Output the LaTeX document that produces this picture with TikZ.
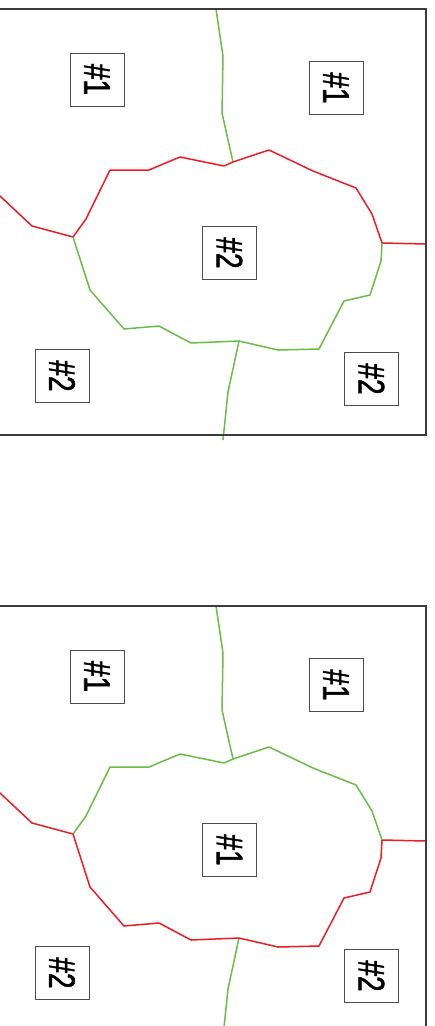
\documentclass[tikz,border=0pt]{standalone}
\usepackage{graphicx}
\usepackage{fontspec}
\setmainfont{Liberation Sans}
\definecolor{lred}{RGB}{237,28,36}
\definecolor{lgreen}{RGB}{105,189,69}
\definecolor{framegray}{RGB}{60,60,60}
\tikzset{
  frameline/.style={draw=framegray, line width=1.5pt},
  seg/.style={line width=1.5pt, line join=round},
  lab/.style={draw=black!70, line width=0.9pt, fill=white, minimum width=54pt, minimum height=53pt, inner sep=0pt},
}
\newcommand{\lbl}[1]{\rotatebox{-90}{\scalebox{0.76}[1]{\fontsize{37}{37}\selectfont\addfontfeature{FakeBold=1.5}\##1}}}
% #1 prefix, #2 yshift, #3 top arc colour, #4 bottom arc colour, #5 centre label
\newcommand{\mypanel}[5]{%
\begin{scope}[yshift=#2]
  \coordinate (#1gt) at (216,9);
  \coordinate (#1g1) at (223,56);
  \coordinate (#1g2) at (222,113);
  \coordinate (#1tj) at (233,162);
  \coordinate (#1l0) at (0,196);
  \coordinate (#1l1) at (32,226);
  \coordinate (#1lj) at (73,237);
  \coordinate (#1rj) at (382,243);
  \coordinate (#1r0) at (426,244);
  \coordinate (#1bj) at (239,341);
  \coordinate (#1b1) at (228,392);
  \coordinate (#1b0) at (223,440);
  % outer red lines
  \draw[seg, lred] (#1l0) -- (#1l1) -- (#1lj);
  \draw[seg, lred] (#1rj) -- (#1r0);
  % outer green lines
  \draw[seg, lgreen] (#1gt) -- (#1g1) -- (#1g2) -- (#1tj);
  \draw[seg, lgreen] (#1bj) -- (#1b1) -- (#1b0);
  % top arc
  \draw[seg, #3] (#1lj) -- (86,219) -- (110,170) -- (149,170) -- (180,157) -- (224,166) -- (#1tj)
     -- (269,150) -- (313,171) -- (356,188) -- (372,214) -- (#1rj);
  % bottom arc
  \draw[seg, #4] (#1lj) -- (90,290) -- (124,329) -- (159,326) -- (191,343) -- (#1bj)
     -- (278,350) -- (319,349) -- (344,301) -- (370,295) -- (381,261) -- (#1rj);
  % labels
  \node[lab] (#1a) at (97,79.5) {\lbl{1}};
  \node[lab] (#1b) at (336,88) {\lbl{1}};
  \node[lab] (#1c) at (229.5,253) {\lbl{#5}};
  \node[lab] (#1d) at (62,376) {\lbl{2}};
  \node[lab] (#1e) at (371.5,379) {\lbl{2}};
\end{scope}}
\begin{document}
\begin{tikzpicture}[x=1pt,y=-1pt]
  \useasboundingbox (0,0) rectangle (434,1026);
  \begin{scope}
    \clip (0,0) rectangle (434,1026);
    \mypanel{p}{0pt}{lred}{lgreen}{2}
    \mypanel{q}{-597pt}{lgreen}{lred}{1}
    \draw[frameline] (0,9) -- (426,9) -- (426,435) -- (0,435);
    \draw[frameline] (0,606) -- (426,606) -- (426,1030);
  \end{scope}
\end{tikzpicture}
\end{document}
